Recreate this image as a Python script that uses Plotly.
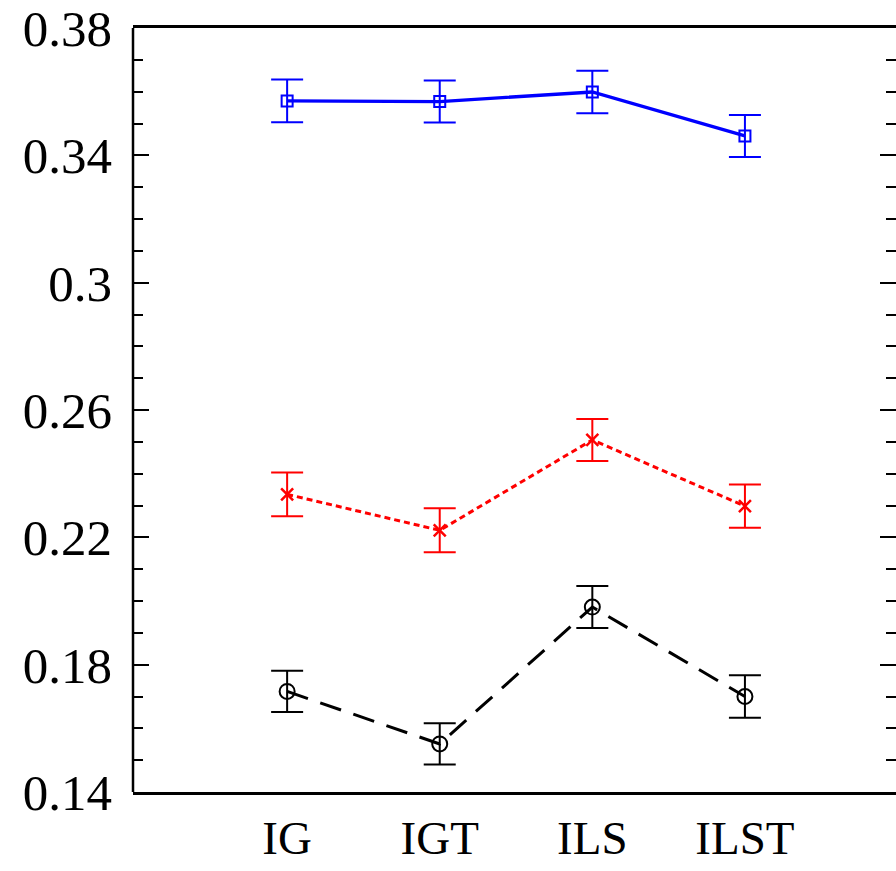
import plotly.graph_objects as go

categories = ["IG", "IGT", "ILS", "ILST"]
blue_vals = [0.3571, 0.3569, 0.3599, 0.3461]
blue_err = [0.0067, 0.0066, 0.0067, 0.0066]
red_vals = [0.2335, 0.2222, 0.2506, 0.2298]
red_err = [0.0069, 0.0069, 0.0066, 0.0068]
black_vals = [0.1716, 0.1551, 0.1981, 0.1700]
black_err = [0.0065, 0.0065, 0.0066, 0.0067]
y_ticks = [0.14, 0.18, 0.22, 0.26, 0.30, 0.34, 0.38]
y_ticklabels = ["0.14", "0.18", "0.22", "0.26", "0.3", "0.34", "0.38"]

xs = list(range(len(categories)))

fig = go.Figure()

def add_series(vals, errs, color, dash, width, symbol, msize, mlw):
    fig.add_trace(go.Scatter(
        x=xs, y=vals, mode="lines+markers",
        line=dict(color=color, width=width, dash=dash),
        marker=dict(symbol=symbol, size=msize, color=color,
                    line=dict(color=color, width=mlw)),
        error_y=dict(type="data", array=errs, visible=True,
                     color=color, thickness=2, width=16),
        showlegend=False,
    ))

add_series(blue_vals, blue_err, "#0000ff", "solid", 3.3, "square-open", 11, 2)
add_series(red_vals, red_err, "#ff0000", "6px,4px", 3, "x-thin-open", 12, 2.5)
add_series(black_vals, black_err, "#000000", "22px,13px", 3, "circle-open", 15, 2)

fig.update_layout(
    width=896, height=871,
    margin=dict(l=133, r=0, t=28, b=79),
    paper_bgcolor="white", plot_bgcolor="white",
    font=dict(family="Liberation Serif", size=51, color="black"),
)
fig.add_shape(type="line", xref="paper", yref="paper", x0=0, x1=0, y0=0, y1=1,
              line=dict(color="black", width=2.5), layer="above")
fig.update_xaxes(
    range=[-1.01, 3.99], tickvals=xs, ticktext=categories,
    tickfont=dict(size=47),
    showline=True, linecolor="black", linewidth=2.5, mirror=True,
    ticks="", showgrid=False, zeroline=False, automargin=False,
    ticklabelstandoff=3,
)
fig.update_yaxes(
    range=[0.14, 0.38], tickvals=y_ticks, ticktext=y_ticklabels,
    showline=False, mirror="ticks", automargin=False,
    ticks="inside", ticklen=16, tickwidth=2, tickcolor="black",
    minor=dict(dtick=0.01, tick0=0.14, ticks="inside", ticklen=10,
               tickwidth=2, tickcolor="black", showgrid=False),
    showgrid=False, zeroline=False,
    ticklabelstandoff=20,
)

fig.write_html("out.html")
